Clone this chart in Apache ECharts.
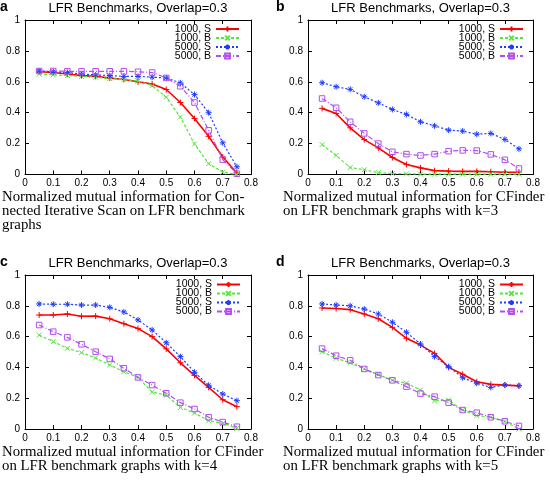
<!DOCTYPE html>
<html><head><meta charset="utf-8">
<script src="https://cdn.jsdelivr.net/npm/echarts@6/dist/echarts.min.js"></script>
<style>html,body{margin:0;padding:0;background:#fff}#c{width:550px;height:484px}</style>
</head><body><div id="c"></div>
<script>
// x values (mixing parameter)
const xs = [0.05,0.1,0.15,0.2,0.25,0.3,0.35,0.4,0.45,0.5,0.55,0.6,0.65,0.7,0.75];
const seriesNames = ['1000, S','1000, B','5000, S','5000, B'];
const xTicks = ['0','0.1','0.2','0.3','0.4','0.5','0.6','0.7','0.8'];
const yTicks = ['0','0.2','0.4','0.6','0.8','1'];
const panelTitle = 'LFR Benchmarks, Overlap=0.3';
const panelLetters = ['a','b','c','d'];
const captions = [
  'Normalized mutual information for Con-\nnected Iterative Scan on LFR benchmark\ngraphs',
  'Normalized mutual information for CFinder\non LFR benchmark graphs with k=3',
  'Normalized mutual information for CFinder\non LFR benchmark graphs with k=4',
  'Normalized mutual information for CFinder\non LFR benchmark graphs with k=5'
];

// Panel a
const a_1000S = [0.665,0.66,0.65,0.64,0.635,0.625,0.615,0.60,0.585,0.55,0.466,0.362,0.247,0.113,0.01];
const a_1000B = [0.65,0.645,0.64,0.635,0.63,0.62,0.615,0.605,0.575,0.50,0.372,0.198,0.07,0.016,0.0];
const a_5000S = [0.67,0.665,0.66,0.65,0.645,0.64,0.635,0.635,0.63,0.625,0.593,0.517,0.40,0.205,0.05];
const a_5000B = [0.67,0.67,0.668,0.668,0.668,0.668,0.668,0.665,0.66,0.625,0.571,0.466,0.286,0.096,0.005];
// Panel b
const b_1000S = [0.428,0.395,0.302,0.226,0.172,0.11,0.065,0.043,0.025,0.022,0.02,0.02,0.018,0.015,0.015];
const b_1000B = [0.194,0.123,0.045,0.031,0.012,0.006,0.004,0.003,0.002,0.002,0.002,0.002,0.002,0.002,0.002];
const b_5000S = [0.594,0.568,0.551,0.503,0.464,0.421,0.389,0.341,0.315,0.287,0.281,0.261,0.266,0.227,0.166];
const b_5000B = [0.492,0.432,0.341,0.266,0.20,0.147,0.132,0.123,0.132,0.151,0.156,0.155,0.13,0.095,0.039];
// Panel c
const c_1000S = [0.74,0.74,0.747,0.732,0.733,0.716,0.684,0.652,0.60,0.52,0.43,0.348,0.27,0.19,0.145];
const c_1000B = [0.61,0.567,0.524,0.496,0.461,0.416,0.372,0.335,0.24,0.22,0.14,0.104,0.054,0.037,0.005];
const c_5000S = [0.812,0.81,0.81,0.805,0.805,0.79,0.76,0.708,0.643,0.56,0.47,0.368,0.284,0.227,0.184];
const c_5000B = [0.675,0.632,0.595,0.55,0.502,0.455,0.394,0.335,0.285,0.232,0.171,0.13,0.076,0.045,0.015];
// Panel d
const d_1000S = [0.786,0.782,0.775,0.747,0.716,0.66,0.589,0.545,0.491,0.40,0.355,0.307,0.29,0.285,0.28];
const d_1000B = [0.502,0.459,0.43,0.39,0.355,0.316,0.297,0.253,0.182,0.188,0.123,0.087,0.076,0.048,0.0];
const d_5000S = [0.812,0.805,0.80,0.779,0.747,0.693,0.628,0.552,0.47,0.405,0.333,0.297,0.27,0.286,0.281];
const d_5000B = [0.522,0.476,0.446,0.39,0.35,0.316,0.275,0.23,0.21,0.171,0.123,0.106,0.076,0.05,0.02];

const panels = [
  [a_1000S,a_1000B,a_5000S,a_5000B],
  [b_1000S,b_1000B,b_5000S,b_5000B],
  [c_1000S,c_1000B,c_5000S,c_5000B],
  [d_1000S,d_1000B,d_5000S,d_5000B]
];

// layout
const grids = [
  {left:25, top:20, width:226, height:154.5},
  {left:308, top:20, width:225, height:154.5},
  {left:25, top:275, width:226, height:154},
  {left:308, top:275, width:225, height:154}
];
const legendPos = [
  {right:310, top:23.5},
  {right:26, top:23.5},
  {right:309, top:279},
  {right:26, top:279}
];
const styles = [
  {color:'#ff0000', type:'solid', width:1.6, symbol:'path://M0,5L10,5M5,0L5,10', size:6},
  {color:'#55e83a', type:[3,2], width:1.2, symbol:'path://M0,0L10,10M10,0L0,10', size:5},
  {color:'#1f3cff', type:[2,2], width:1.2, symbol:'path://M0,5L10,5M5,0L5,10M1.5,1.5L8.5,8.5M8.5,1.5L1.5,8.5', size:6},
  {color:'#b24ef0', type:[5,2,1,2], width:1.2, symbol:'path://M0,0L10,0L10,10L0,10Z', size:5.5}
];

const FONT = '"Liberation Sans", Arial, sans-serif';
const fmtX = v => xTicks[Math.round(v*10)] ?? '';
const fmtY = v => yTicks[Math.round(v*5)] ?? '';

const xAxis = [], yAxis = [], series = [], legend = [], graphic = [];
grids.forEach((g, gi) => {
  const tick = {show:true, inside:true, length:4, lineStyle:{color:'#000', width:1}};
  const line = {show:true, onZero:false, lineStyle:{color:'#000', width:1}};
  xAxis.push({gridIndex:gi, type:'value', position:'bottom', min:0, max:0.8, interval:0.1,
    axisLine:line, axisTick:tick, splitLine:{show:false},
    axisLabel:{color:'#000', fontSize:10, fontFamily:FONT, margin:4, formatter:fmtX}});
  xAxis.push({gridIndex:gi, type:'value', position:'top', min:0, max:0.8, interval:0.1,
    axisLine:line, axisTick:tick, splitLine:{show:false}, axisLabel:{show:false}});
  yAxis.push({gridIndex:gi, type:'value', position:'left', min:0, max:1, interval:0.2,
    axisLine:line, axisTick:tick, splitLine:{show:false},
    axisLabel:{color:'#000', fontSize:10, fontFamily:FONT, margin:5, formatter:fmtY}});
  yAxis.push({gridIndex:gi, type:'value', position:'right', min:0, max:1, interval:0.2,
    axisLine:line, axisTick:tick, splitLine:{show:false}, axisLabel:{show:false}});
  panels[gi].forEach((arr, si) => {
    const s = styles[si];
    series.push({
      type:'line', name:seriesNames[si], xAxisIndex:gi*2, yAxisIndex:gi*2,
      data: xs.map((x,i)=>[x, arr[i]]),
      symbol:s.symbol, symbolSize:s.size, showAllSymbol:true,
      lineStyle:{color:s.color, width:s.width, type:s.type},
      itemStyle:{color:'none', borderColor:s.color, borderWidth:1},
      emphasis:{disabled:true}, z: 2+si
    });
  });
  legend.push({
    orient:'vertical', right:legendPos[gi].right, top:legendPos[gi].top, align:'right',
    itemWidth:23, itemHeight:6, itemGap:-2, padding:0, selectedMode:false,
    textStyle:{color:'#000', fontSize:10.5, fontFamily:FONT, lineHeight:8},
    data: seriesNames
  });
  // title
  graphic.push({type:'text', x: g.left + g.width/2, y: g.top - 12,
    style:{text:panelTitle, font:'13px '+FONT, fill:'#000', textAlign:'center', textVerticalAlign:'middle', align:'center', verticalAlign:'middle'}});
  // panel letter
  graphic.push({type:'text', x: gi%2===0 ? 0 : 276, y: g.top - 13,
    style:{text:panelLetters[gi], font:'bold 14px '+FONT, fill:'#000', textAlign:'left', textVerticalAlign:'middle', align:'left', verticalAlign:'middle'}});
  // caption
  graphic.push({type:'text', x: gi%2===0 ? 2 : 283, y: gi<2 ? 190 : 445,
    style:{text:captions[gi], font:'14.8px "Liberation Serif", "Times New Roman", serif', fill:'#000', lineHeight:14, textAlign:'left', textVerticalAlign:'top', align:'left', verticalAlign:'top'}});
});

const chart = echarts.init(document.getElementById('c'), null, {renderer:'canvas'});
chart.setOption({
  animation:false,
  grid: grids.map(g => Object.assign({containLabel:false, show:false}, g)),
  xAxis, yAxis, series, legend, graphic
});
</script></body></html>
